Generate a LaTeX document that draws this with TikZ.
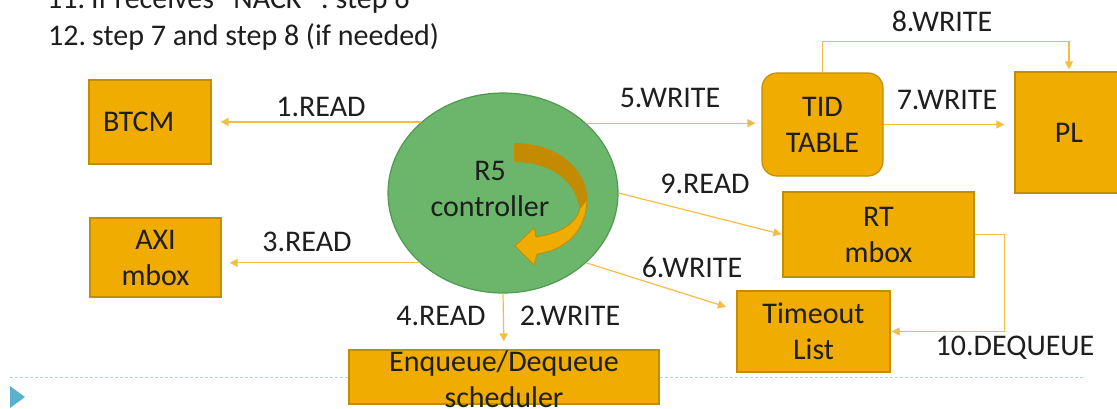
\documentclass[tikz,border=0pt]{standalone}
\usepackage{fontspec}
\setmainfont{Carlito}
\usetikzlibrary{arrows.meta,shapes.geometric,calc}
\definecolor{boxfill}{HTML}{F0AC00}
\definecolor{boxedge}{HTML}{C08E00}
\definecolor{cpufill}{HTML}{6BB66B}
\definecolor{cpuedge}{HTML}{4F9A50}
\definecolor{wire}{HTML}{F5BD45}
\definecolor{loopdark}{HTML}{C48A00}
\definecolor{slideline}{HTML}{A8D8E8}
\definecolor{bulletmark}{HTML}{5BB0CC}
\definecolor{ink}{HTML}{1E1E1E}
\begin{document}
\begin{tikzpicture}[x=1pt,y=-1pt,
  every node/.style={text=ink, font=\fontsize{30}{36}\selectfont},
  blk/.style={draw=boxedge, line width=1.2pt, fill=boxfill, align=center, inner sep=2pt},
  wirearrow/.style={draw=wire, line width=1.2pt, -{Triangle[length=8pt,width=8pt]}},
  lbl/.style={inner sep=0pt}
]
\useasboundingbox (0,0) rectangle (1117,408);
\clip (0,0) rectangle (1117,408);
\fill[white] (0,0) rectangle (1117,408);

% numbered steps at the top
\node[lbl, anchor=base west] (t11) at (47,8) {\makebox[44pt][l]{11.}If receives “NACK” : step 6};
\node[lbl, anchor=base west] (t12) at (48,45) {\makebox[44pt][l]{12.}step 7 and step 8 (if needed)};

% dotted slide rule and bullet
\draw[slideline, line width=1pt, dash pattern=on 3pt off 2pt] (10,377) -- (1085,377);
\fill[bulletmark] (10,386) -- (25,397) -- (10,408) -- cycle;

% blocks
\node[blk, minimum width=122pt, minimum height=84pt, text width=94pt, align=left, inner xsep=14pt] (btcm) at (150,122) {BTCM};
\node[blk, minimum width=131pt, minimum height=79pt] (axi) at (155.5,257.5) {AXI\\mbox};
\node[blk, rounded corners=15pt, minimum width=121pt, minimum height=103pt] (tid) at (822.5,124.5) {TID\\TABLE};
\node[blk, minimum width=108pt, minimum height=121pt] (pl) at (1069,132.5) {PL};
\node[blk, minimum width=191pt, minimum height=85pt] (rt) at (878.5,234.5) {RT\\mbox};
\node[blk, minimum width=153pt, minimum height=81pt] (tmo) at (813.5,331.5) {Timeout\\List};
\node[blk, minimum width=310pt, minimum height=54pt] (enq) at (504,377)
  {\smash{\raisebox{-12pt}{\begin{tabular}{@{}c@{}}Enqueue/Dequeue\\scheduler\end{tabular}}}};

% controller
\node[ellipse, draw=cpuedge, line width=1.2pt, fill=cpufill, minimum width=230pt, minimum height=200pt, inner sep=0pt] (r5) at (503,193) {};
% loop arrow inside the controller
\fill[loopdark] (514,143) .. controls (560,143) and (590,172) .. (587,205)
  -- (580,213) .. controls (578,182) and (552,162) .. (514,162) -- cycle;
\filldraw[fill=boxfill, draw=boxedge, line width=0.8pt]
  (587,200) .. controls (586,232) and (565,250) .. (537,254)
  -- (534,265) -- (515,246) -- (534,228) -- (536,237)
  .. controls (558,234) and (577,224) .. (580,208) -- cycle;
\node[lbl, align=center] (r5txt) at (490,189) {R5\\controller};

% connectors
\draw[wirearrow, shorten >=9pt] (r5.139.5) -- (btcm.east |- r5.139.5);
\draw[wirearrow, shorten >=8pt] (r5.220.5) -- (axi.east |- r5.220.5);
\draw[wirearrow, shorten >=8pt] (r5.south) -- (enq.north);
\draw[wirearrow, shorten >=6pt] (r5.40.5) -- (tid.west |- r5.40.5);
\draw[wirearrow, shorten >=10pt] (tid.east) -- (pl.west |- tid.east);
\draw[wirearrow, shorten >=2pt] (tid.north) -- ++(0,-31) -| (pl.north);
\draw[wirearrow, shorten >=1pt] (r5.east) -- (rt.west);
\draw[wirearrow, shorten >=11pt] (r5.-40) -- ($(tmo.north west)!0.24!(tmo.south west)$);
\draw[wirearrow, shorten >=1pt] (rt.east) -- ++(30,0) |- (tmo.east);

% connector labels
\node[lbl] (l1) at (321,107) {1.READ};
\node[lbl] (l3) at (307,242) {3.READ};
\node[lbl] (l4) at (441,316) {4.READ};
\node[lbl] (l2) at (570,316) {2.WRITE};
\node[lbl] (l5) at (670,98) {5.WRITE};
\node[lbl] (l7) at (947,100) {7.WRITE};
\node[lbl] (l8) at (942,21) {8.WRITE};
\node[lbl] (l9) at (705,184) {9.READ};
\node[lbl] (l6) at (692,267) {6.WRITE};
\node[lbl] (l10) at (1015,348) {10.DEQUEUE};
\end{tikzpicture}
\end{document}
